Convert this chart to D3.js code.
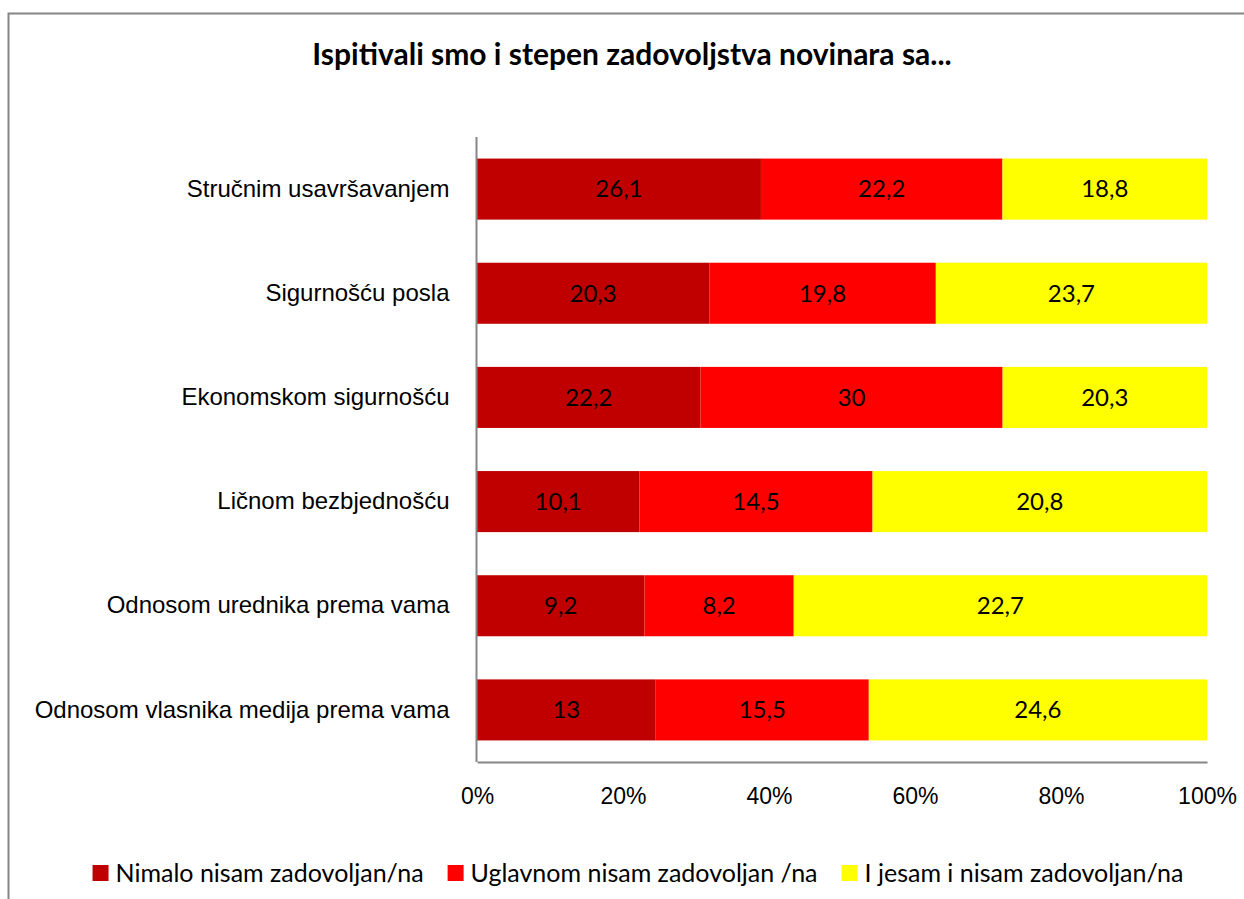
<!DOCTYPE html>
<html>
<head>
<meta charset="utf-8">
<script src="https://cdn.jsdelivr.net/npm/d3@7"></script>
<style>
  body { margin: 0; background: #fff; }
  svg { font-family: Lato, "Open Sans", sans-serif; }
</style>
</head>
<body>
<div id="chart"></div>
<script>
// categories, top to bottom
let categories = [
  "Stručnim usavršavanjem",
  "Sigurnošću posla",
  "Ekonomskom sigurnošću",
  "Ličnom bezbjednošću",
  "Odnosom urednika prema vama",
  "Odnosom vlasnika medija prema vama"
]
let seriesNames = [
  "Nimalo nisam zadovoljan/na",
  "Uglavnom nisam zadovoljan /na",
  "I jesam i nisam zadovoljan/na"
]
let nimalo    = [26.1, 20.3, 22.2, 10.1, 9.2, 13]
let uglavnom  = [22.2, 19.8, 30, 14.5, 8.2, 15.5]
let jesamNisam = [18.8, 23.7, 20.3, 20.8, 22.7, 24.6]
let seriesColors = ["#C00000", "#FF0000", "#FFFF00"]
let xTicks = [0, 0.2, 0.4, 0.6, 0.8, 1]

let width = 1244
let height = 899
let plotLeft = 477, plotRight = 1207, plotTop = 137, plotBottom = 762

// build rows for the stack (100% stacked)
let rows = categories.map((c, i) => ({
  cat: c,
  s0: nimalo[i], s1: uglavnom[i], s2: jesamNisam[i]
}))
let keys = ["s0", "s1", "s2"]
let stack = d3.stack().keys(keys).offset(d3.stackOffsetExpand)
let layers = stack(rows)

let x = d3.scaleLinear().domain([0, 1]).range([plotLeft, plotRight])
let y = d3.scaleBand().domain(categories).range([plotTop, plotBottom])
          .paddingInner(0.414).paddingOuter(0.207)

let svg = d3.select("#chart").append("svg")
  .attr("width", width).attr("height", height)

// outer frame of the chart area
svg.append("rect")
  .attr("x", 8.5).attr("y", 13.5)
  .attr("width", 1300).attr("height", 1000)
  .attr("fill", "none").attr("stroke", "#868686").attr("stroke-width", 2)

svg.append("text")
  .attr("x", 632).attr("y", 65)
  .attr("text-anchor", "middle")
  .style("font-weight", "bold").style("font-size", "30px")
  .text("Ispitivali smo i stepen zadovoljstva novinara sa...")

// bars
let layerG = svg.append("g").selectAll("g")
  .data(layers)
  .join("g")
  .attr("fill", (d, i) => seriesColors[i])

layerG.selectAll("rect")
  .data(d => d)
  .join("rect")
  .attr("x", d => x(d[0]))
  .attr("y", d => y(d.data.cat))
  .attr("width", d => x(d[1]) - x(d[0]))
  .attr("height", y.bandwidth())

// value labels
layerG.each(function(layer) {
  d3.select(this).selectAll("text")
    .data(layer)
    .join("text")
    .attr("x", d => (x(d[0]) + x(d[1])) / 2)
    .attr("y", d => y(d.data.cat) + y.bandwidth() / 2)
    .attr("dy", "0.35em")
    .attr("text-anchor", "middle")
    .attr("fill", "#000")
    .style("font-size", "24px")
    .text(d => String(d.data[layer.key]).replace(".", ","))
})

// category axis
let yAxis = svg.append("g")
  .attr("transform", `translate(${plotLeft - 0.5},0)`)
  .call(d3.axisLeft(y).tickSize(0).tickPadding(27))
yAxis.select(".domain").attr("stroke", "#868686").attr("stroke-width", 2)
  .attr("d", `M0,${plotTop}V${plotBottom}`)
yAxis.selectAll("text").style("font-size", "24px").attr("fill", "#000")

// value axis
let xAxis = svg.append("g")
  .attr("transform", `translate(0,${plotBottom})`)
  .call(d3.axisBottom(x).tickValues(xTicks).tickFormat(d3.format(".0%")).tickSize(0).tickPadding(26))
xAxis.select(".domain").attr("stroke", "#868686").attr("stroke-width", 2)
xAxis.selectAll("text").style("font-size", "23px").attr("fill", "#000")

// legend
let legend = svg.append("g")
let lx = 0
seriesNames.forEach((name, i) => {
  let g = legend.append("g").attr("transform", `translate(${lx},0)`)
  g.append("rect").attr("x", 0).attr("y", -8).attr("width", 16).attr("height", 16)
    .attr("fill", seriesColors[i])
  let t = g.append("text").attr("x", 23).attr("dy", "0.35em")
    .style("font-size", "25px").text(name)
  lx += 23 + t.node().getComputedTextLength() + 24
})
let legendWidth = lx - 24
legend.attr("transform", `translate(${638 - legendWidth / 2},873)`)
</script>
</body>
</html>
